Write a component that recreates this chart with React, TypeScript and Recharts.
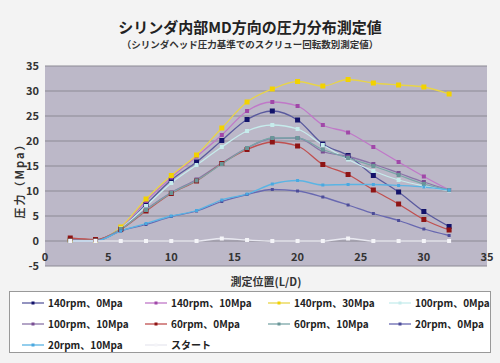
import { CartesianGrid, Line, LineChart, XAxis, YAxis } from "recharts";

const positions = [2, 4, 6, 8, 10, 12, 14, 16, 18, 20, 22, 24, 26, 28, 30, 32];

const rpm140_0 = [0.2, 0.1, 2.5, 7.3, 12.2, 15.8, 20.1, 24.3, 26.0, 24.2, 19.4, 17.1, 13.1, 9.8, 5.9, 2.9];
const rpm140_10 = [0.2, 0.1, 2.6, 8.0, 12.7, 16.9, 21.2, 26.0, 27.8, 27.0, 23.2, 21.7, 18.8, 15.8, 12.9, 10.2];
const rpm140_30 = [0.2, 0.1, 2.8, 8.4, 13.1, 17.2, 22.6, 27.8, 30.4, 31.9, 31.0, 32.3, 31.6, 31.2, 30.8, 29.4];
const rpm100_0 = [0.1, 0.1, 2.5, 7.0, 11.6, 15.2, 18.8, 22.0, 23.2, 22.4, 19.2, 16.3, 14.0, 12.2, 11.0, 10.1];
const rpm100_10 = [0.3, 0.2, 2.4, 6.3, 9.7, 12.3, 15.6, 18.6, 20.5, 20.6, 17.9, 16.9, 15.4, 13.6, 11.8, 10.2];
const rpm60_0 = [0.6, 0.3, 2.3, 6.0, 9.5, 12.0, 15.5, 18.3, 19.8, 19.0, 15.3, 13.3, 10.2, 7.4, 4.3, 2.2];
const rpm60_10 = [0.1, 0.1, 2.4, 6.2, 9.6, 12.1, 15.4, 18.6, 20.6, 20.6, 18.3, 16.6, 15.0, 13.2, 11.4, 10.2];
const rpm20_0 = [0, 0, 2.0, 3.3, 4.9, 6.0, 7.9, 9.3, 10.3, 10.0, 8.8, 7.2, 5.5, 4.1, 2.4, 1.1];
const rpm20_10 = [0, 0, 2.0, 3.5, 5.0, 6.1, 8.2, 9.4, 11.4, 12.1, 11.2, 11.3, 11.3, 11.1, 10.8, 10.2];
const start = [0, 0, 0, 0, 0, 0, 0.5, 0.2, 0, 0, 0, 0.5, 0, 0, 0, 0];

const names = [
  "140rpm、0Mpa", "140rpm、10Mpa", "140rpm、30Mpa", "100rpm、0Mpa", "100rpm、10Mpa",
  "60rpm、0Mpa", "60rpm、10Mpa", "20rpm、0Mpa", "20rpm、10Mpa", "スタート",
];
const values = [rpm140_0, rpm140_10, rpm140_30, rpm100_0, rpm100_10, rpm60_0, rpm60_10, rpm20_0, rpm20_10, start];
const lineColors = ["#5a5a9e", "#c078c8", "#e8d448", "#c6ecec", "#8a74a8", "#c05050", "#7aa6a8", "#6868b0", "#5ab4e4", "#e8e8f0"];
const dotColors = ["#12126a", "#a048a8", "#f2d200", "#c6ecec", "#7a4e94", "#8e1414", "#6a9698", "#4c4c98", "#4aa8e0", "#f4f4f8"];
const dotSizes = [5, 4, 5, 4, 4, 5, 4, 3, 3, 4];

const xTicks = [0, 5, 10, 15, 20, 25, 30, 35];
const yTicks = [-5, 0, 5, 10, 15, 20, 25, 30, 35];

const rows = positions.map((p, i) => {
  const row: Record<string, number> = { ld: p };
  values.forEach((v, s) => { row[`s${s}`] = v[i]; });
  return row;
});

const font = "'Noto Sans CJK JP', 'Noto Sans', sans-serif";

const makeDot = (s: number) => (props: any) => {
  const { cx, cy, index } = props;
  if (cx == null || cy == null) return <g key={`d${s}-${index}`} />;
  const r = dotSizes[s] / 2;
  return <rect key={`d${s}-${index}`} x={cx - r} y={cy - r} width={r * 2} height={r * 2} fill={dotColors[s]} />;
};

// Excel puts the category labels on the zero line, above the bottom of the plot
const XTick = (props: any) => {
  const { x, y, payload } = props;
  return <text x={x} y={y - 13} textAnchor="middle" fontSize={11} fontWeight={700} fill="#333" fontFamily={font}>{payload.value}</text>;
};

export default function App() {
  return (
    <div style={{ position: "relative", width: 500, height: 363, background: "#f3f3f3", fontFamily: font }}>
      <style>{`body{margin:0}`}</style>
      <div style={{ position: "absolute", left: 0, top: 16, width: 500, textAlign: "center", fontSize: 15, fontWeight: 700, color: "#222" }}>
        シリンダ内部MD方向の圧力分布測定値
      </div>
      <div style={{ position: "absolute", left: 0, top: 37, width: 500, textAlign: "center", fontSize: 9.5, fontWeight: 700, color: "#333" }}>
        （シリンダヘッド圧力基準でのスクリュー回転数別測定値）
      </div>
      <div style={{ position: "absolute", left: 0, top: 0 }}>
        <LineChart width={500} height={363} data={rows} margin={{ top: 66, right: 13, bottom: 67, left: 0 }}>
          <CartesianGrid vertical={false} fill="#bcb8c8" stroke="#8c8a94" strokeWidth={1.2} />
          <XAxis dataKey="ld" type="number" domain={[0, 35]} ticks={xTicks} axisLine={false} tickLine={false} tick={<XTick />} height={30} />
          <YAxis domain={[-5, 35]} ticks={yTicks} width={45} axisLine={false} tickLine={false} tickSize={4}
            tick={{ fontSize: 11, fontWeight: 700, fill: "#333", fontFamily: font }} />
          {values.map((_, s) => (
            <Line key={s} type="monotone" dataKey={`s${s}`} stroke={lineColors[s]} strokeWidth={1.3}
              dot={makeDot(s)} activeDot={false} isAnimationActive={false} />
          ))}
        </LineChart>
      </div>
      <div style={{ position: "absolute", left: 2, top: 148, width: 34, height: 60, display: "flex", alignItems: "center", justifyContent: "center" }}>
        <div style={{ transform: "rotate(-90deg)", whiteSpace: "nowrap", fontSize: 11, fontWeight: 700, color: "#333", letterSpacing: 2 }}>圧力（Mpa）</div>
      </div>
      <div style={{ position: "absolute", left: 45, top: 273, width: 442, textAlign: "center", fontSize: 11, fontWeight: 700, color: "#333" }}>
        測定位置(L/D)
      </div>
      <div style={{ position: "absolute", left: 9, top: 291, width: 482, height: 62, border: "1px solid #999", background: "#fff",
        display: "grid", gridTemplateColumns: "123px 123px 121px 115px", gridAutoRows: 21, paddingTop: 0, boxSizing: "border-box" }}>
        {names.map((n, s) => (
          <div key={n} style={{ display: "flex", alignItems: "center", paddingLeft: 12, fontSize: 10, fontWeight: 700, color: "#222" }}>
            <svg width={22} height={8} style={{ marginRight: 4 }}>
              <line x1={0} y1={4} x2={22} y2={4} stroke={lineColors[s]} strokeWidth={1.3} />
              <rect x={9.5} y={2.5} width={3} height={3} fill={dotColors[s]} />
            </svg>
            {n}
          </div>
        ))}
      </div>
    </div>
  );
}
